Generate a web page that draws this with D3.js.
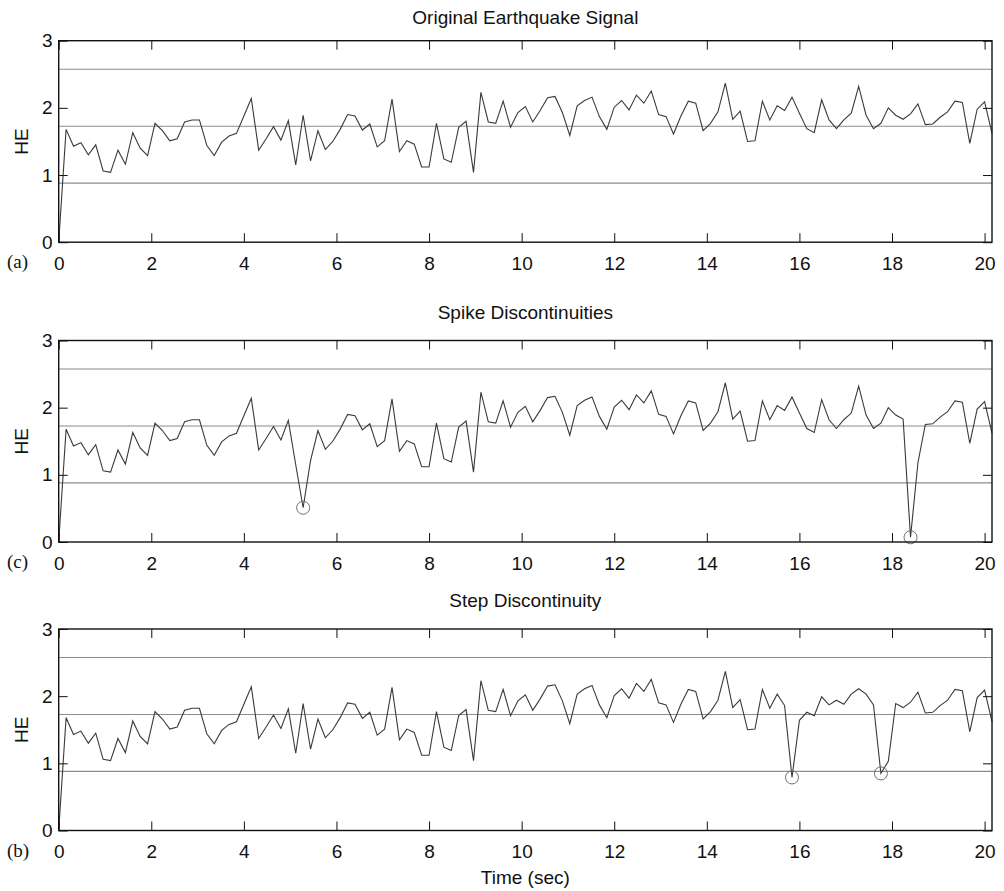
<!DOCTYPE html>
<html>
<head>
<meta charset="utf-8">
<script src="https://cdn.jsdelivr.net/npm/d3@7"></script>
<style>
  body { margin: 0; background: #fff; }
  svg { display: block; }
</style>
</head>
<body>
<svg id="chart" width="1004" height="891"></svg>
<script>
// Sampling interval of the HE record (seconds)
const sampleStep = 0.16;

// HE values of the original earthquake record, one per sample
const heSignal = [
  0.00, 1.68, 1.43, 1.48, 1.30, 1.45, 1.06, 1.04, 1.37, 1.16,
  1.63, 1.40, 1.29, 1.77, 1.66, 1.51, 1.54, 1.79, 1.82, 1.82,
  1.44, 1.29, 1.49, 1.58, 1.62, 1.88, 2.14, 1.37, 1.54, 1.72,
  1.52, 1.81, 1.15, 1.89, 1.21, 1.66, 1.38, 1.50, 1.68, 1.90,
  1.88, 1.67, 1.76, 1.42, 1.51, 2.13, 1.35, 1.51, 1.46, 1.12,
  1.12, 1.77, 1.24, 1.19, 1.71, 1.80, 1.04, 2.23, 1.79, 1.77,
  2.10, 1.71, 1.93, 2.02, 1.79, 1.96, 2.15, 2.17, 1.93, 1.59,
  2.03, 2.11, 2.16, 1.87, 1.68, 2.01, 2.11, 1.97, 2.19, 2.07,
  2.25, 1.90, 1.87, 1.61, 1.88, 2.10, 2.07, 1.66, 1.77, 1.94,
  2.37, 1.83, 1.95, 1.50, 1.51, 2.10, 1.82, 2.03, 1.96, 2.16,
  1.92, 1.69, 1.63, 2.12, 1.82, 1.69, 1.82, 1.92, 2.32, 1.89,
  1.69, 1.77, 2.00, 1.89, 1.83, 1.91, 2.06, 1.75, 1.76, 1.86,
  1.94, 2.10, 2.08, 1.47, 1.98, 2.09, 1.62
];

// Samples altered in the spike record: [sample index, HE]
const spikeEdits = [[33, 0.51], [115, 0.07], [116, 1.18]];
const spikeMarks = [33, 115];

// Samples altered in the step record: [sample index, HE]
const stepEdits = [
  [98, 1.86], [99, 0.79], [100, 1.64], [101, 1.76], [102, 1.71],
  [103, 1.99], [104, 1.87], [105, 1.94], [106, 1.88], [107, 2.03],
  [108, 2.11], [109, 2.03], [110, 1.87], [111, 0.85], [112, 1.03]
];
const stepMarks = [99, 111];

// Reference levels drawn across every panel
const refLevels = [0.88, 1.727, 2.575];

const xTickValues = [0, 2, 4, 6, 8, 10, 12, 14, 16, 18, 20];
const yTickValues = [0, 1, 2, 3];

const panelTitles = ["Original Earthquake Signal", "Spike Discontinuities", "Step Discontinuity"];
const panelTags = ["(a)", "(c)", "(b)"];
const yAxisTitle = "HE";
const xAxisTitle = "Time (sec)";

// ---- build the three series ----
function withEdits(base, edits) {
  const out = base.slice();
  edits.forEach(([i, v]) => { out[i] = v; });
  return out;
}
const toPoints = vals => vals.map((v, i) => ({ t: i * sampleStep, v }));

const series = [
  { values: toPoints(heSignal), marks: [] },
  { values: toPoints(withEdits(heSignal, spikeEdits)), marks: spikeMarks },
  { values: toPoints(withEdits(heSignal, stepEdits)), marks: stepMarks }
];

// ---- layout ----
const left = 58.7, right = 992;
const panelTops = [40.7, 340.5, 629];
const titleGaps = [16.7, 22, 22];
const panelH = 201.5;
const sansFont = "'Liberation Sans', Arial, Helvetica, sans-serif";
const serifFont = "'Liberation Serif', 'Times New Roman', serif";
const fontPx = 19;

const svg = d3.select("#chart");
svg.append("rect").attr("width", 1004).attr("height", 891).attr("fill", "#fff");

const x = d3.scaleLinear().domain([0, (heSignal.length - 1) * sampleStep]).range([left, right]);

function styleAxis(g, showLabels) {
  g.select(".domain").remove();
  g.selectAll(".tick line").attr("stroke", "#111").attr("stroke-width", 1);
  g.attr("font-size", fontPx).attr("font-family", sansFont);
  g.selectAll(".tick text").attr("fill", "#111");
  if (!showLabels) g.selectAll(".tick text").remove();
}

series.forEach((s, k) => {
  const top = panelTops[k], bottom = top + panelH;
  const y = d3.scaleLinear().domain([0, 3]).range([bottom, top]);
  const g = svg.append("g");

  // reference levels
  g.selectAll("line.ref").data(refLevels).join("line")
    .attr("class", "ref")
    .attr("x1", left).attr("x2", right)
    .attr("y1", d => y(d)).attr("y2", d => y(d))
    .attr("stroke", "#8c8c8c").attr("stroke-width", 1.1);

  // signal trace
  const line = d3.line().x(d => x(d.t)).y(d => y(d.v));
  g.append("path").datum(s.values)
    .attr("d", line)
    .attr("fill", "none")
    .attr("stroke", "#3a3a3a")
    .attr("stroke-width", 1.1)
    .attr("stroke-linejoin", "miter");

  // circled discontinuity samples
  g.selectAll("circle.mark").data(s.marks.map(i => s.values[i])).join("circle")
    .attr("class", "mark")
    .attr("cx", d => x(d.t)).attr("cy", d => y(d.v))
    .attr("r", 6.5)
    .attr("fill", "none").attr("stroke", "#6e6e6e").attr("stroke-width", 1);

  // axes with inward ticks on all four sides
  g.append("g").attr("transform", `translate(0,${bottom})`)
    .call(d3.axisBottom(x).tickValues(xTickValues).tickSizeInner(-9).tickSizeOuter(0).tickPadding(14.5))
    .call(a => styleAxis(a, true));
  g.append("g").attr("transform", `translate(0,${top})`)
    .call(d3.axisTop(x).tickValues(xTickValues).tickSizeInner(-9).tickSizeOuter(0))
    .call(a => styleAxis(a, false));
  g.append("g").attr("transform", `translate(${left},0)`)
    .call(d3.axisLeft(y).tickValues(yTickValues).tickSizeInner(-9).tickSizeOuter(0).tickPadding(6).tickFormat(d3.format("d")))
    .call(a => styleAxis(a, true));
  g.append("g").attr("transform", `translate(${right},0)`)
    .call(d3.axisRight(y).tickValues(yTickValues).tickSizeInner(-9).tickSizeOuter(0))
    .call(a => styleAxis(a, false));

  // plot frame
  g.append("rect")
    .attr("x", left).attr("y", top)
    .attr("width", right - left).attr("height", panelH)
    .attr("fill", "none").attr("stroke", "#111").attr("stroke-width", 1.4);

  // title
  g.append("text")
    .attr("x", (left + right) / 2).attr("y", top - titleGaps[k])
    .attr("text-anchor", "middle")
    .attr("font-family", sansFont).attr("font-size", fontPx).attr("fill", "#111")
    .text(panelTitles[k]);

  // y axis title
  g.append("text")
    .attr("transform", `translate(28,${(top + bottom) / 2}) rotate(-90)`)
    .attr("text-anchor", "middle")
    .attr("font-family", sansFont).attr("font-size", fontPx).attr("fill", "#111")
    .text(yAxisTitle);

  // panel tag
  g.append("text")
    .attr("x", 7).attr("y", bottom + 26)
    .attr("font-family", serifFont).attr("font-size", fontPx).attr("fill", "#111")
    .text(panelTags[k]);
});

svg.append("text")
  .attr("x", (left + right) / 2).attr("y", 884)
  .attr("text-anchor", "middle")
  .attr("font-family", sansFont).attr("font-size", fontPx).attr("fill", "#111")
  .text(xAxisTitle);
</script>
</body>
</html>
